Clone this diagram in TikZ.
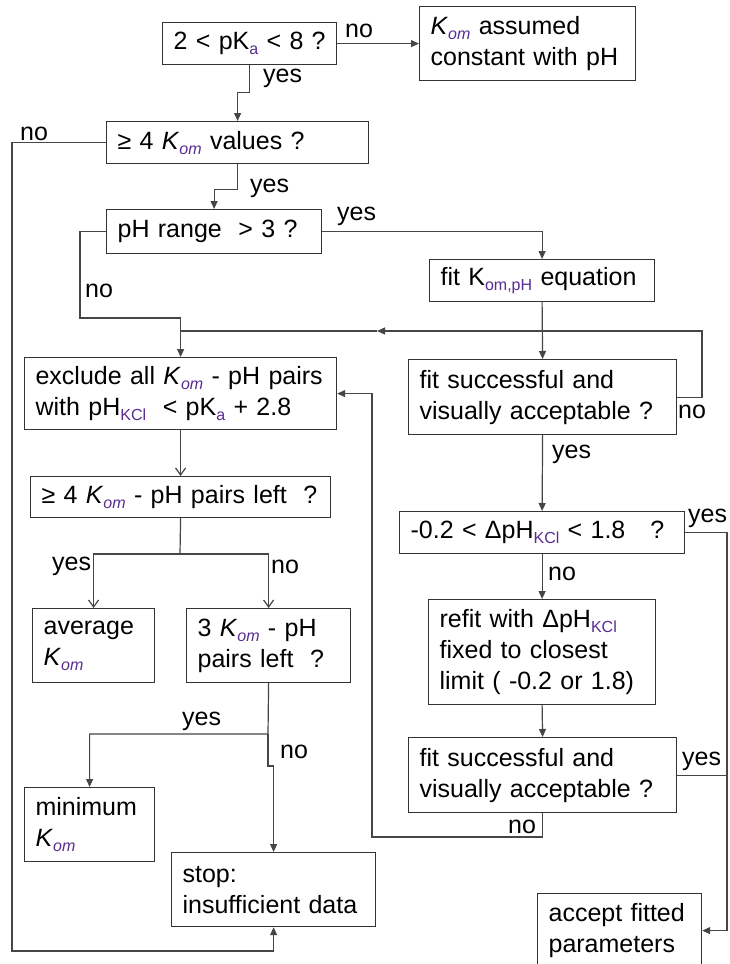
\documentclass[tikz,border=0pt]{standalone}
\usepackage{fontspec}
\setmainfont{Liberation Sans}
\usetikzlibrary{arrows.meta}
\definecolor{subc}{RGB}{88,44,145}
\definecolor{linec}{RGB}{70,70,70}
\newcommand{\sbs}[1]{\raisebox{-5pt}{\fontsize{16}{16}\selectfont\color{subc}#1}}
\newcommand{\Kom}{\textit{K}\sbs{\textit{om}}}
\begin{document}
\begin{tikzpicture}[x=1pt,y=1pt,
  box/.style={draw=black!80, line width=1.2pt, align=left, inner xsep=11pt, inner ysep=0pt,
    font=\fontsize{25}{31}\selectfont, anchor=north west},
  lbl/.style={font=\fontsize{25}{31}\selectfont, inner sep=0pt, anchor=base west},
  ln/.style={draw=linec, line width=1.2pt},
  arr/.style={ln, -{Triangle[length=8pt,width=7pt]}},
  oarr/.style={ln, -{Straight Barb[length=7pt,width=10pt]}}]
\clip (0,0) rectangle (729,-964);
\fill[white] (0,0) rectangle (729,-964);

% boxes
\node[box, text width=152pt, minimum height=42pt] (b1) at (162,-22) {\mbox{2 < pK\sbs{a} < 8 ?}};
\node[box, text width=194pt, minimum height=74pt] (b2) at (419,-6) {\Kom{} assumed\\constant with pH};
\node[box, text width=240pt, minimum height=42pt] (b3) at (106,-121) {≥ 4 \Kom{} values ?};
\node[box, text width=193pt, minimum height=44pt] (b4) at (106,-209) {pH range\ \ > 3 ?};
\node[box, text width=203pt, minimum height=42pt] (b5) at (429,-259) {fit K\sbs{om,pH} equation};
\node[box, text width=246pt, minimum height=75pt] (b6) at (408,-359) {fit successful and\\visually acceptable ?};
\node[box, text width=290pt, minimum height=72pt] (b7) at (24,-357) {exclude all \Kom{} - pH pairs\\with pH\sbs{KCl}\ \ < pK\sbs{a} + 2.8};
\node[box, text width=278pt, minimum height=41pt] (b8) at (30,-476) {≥ 4 \Kom{} - pH pairs left\ \ ?};
\node[box, text width=100pt, minimum height=74pt] (b9) at (32,-608) {average\\\Kom};
\node[box, text width=142pt, minimum height=74pt] (b10) at (186,-608) {3 \Kom{} - pH\\pairs left\ \ ?};
\node[box, text width=108pt, minimum height=74pt] (b11) at (24,-787) {minimum\\\Kom};
\node[box, text width=182pt, minimum height=74pt] (b12) at (171,-852) {stop:\\insufficient data};
\node[box, text width=263pt, minimum height=42pt] (b13) at (399,-511) {-0.2 < ΔpH\sbs{KCl} < 1.8\ \ \ ?};
\node[box, text width=205pt, minimum height=105pt] (b14) at (428,-599) {refit with ΔpH\sbs{KCl}\\fixed to closest\\limit ( -0.2 or 1.8)};
\node[box, text width=246pt, minimum height=75pt] (b15) at (408,-737) {fit successful and\\visually acceptable ?};
\node[box, text width=142pt, minimum height=74pt] (b16) at (537,-893) {accept fitted\\parameters};

% helper coordinates
\coordinate (cL) at (12,-951);
\coordinate (cN) at (80,-318);
\coordinate (cR) at (702,-331);
\coordinate (cA) at (377,-331);
\coordinate (cX) at (727,0);
\coordinate (cB) at (372,-837);
\coordinate (cS) at (180,-554);
\coordinate (cT) at (268,-734);

% connectors
\draw[arr] (b1.east) -- (b2.west);
\draw[arr] (b1.south) -- ++(0,-27) -| (b3.north);
\draw[arr] (b3.south) -- ++(0,-25) -| (b4.north);
\draw[arr] (b3.west) -| (cL) -| (b12.south);
\draw[arr] (b4.east) -| (b5.north);
\draw[arr] (b4.west) -| (cN) -| (b7.north);
\draw[arr] (b5.south) -- (b6.north);
\draw[arr] (b6.east) -| (cR) -- (cA);
\draw[ln] (cA) -- (b7.north |- cA);
\draw[arr] (b6.south) -- (b13.north);
\draw[arr] (b13.south) -- (b14.north);
\draw[arr] (b14.south) -- (b15.north);
\draw[arr] (b13.east) -| (b16.east -| cX) -- (b16.east);
\draw[ln] (b15.east) -- (b15.east -| cX);
\draw[arr] (b15.south) |- (cB) |- (b7.east);
\draw[oarr] (b7.south) -- (b8.north);
\draw[ln] (b8.south) -- (cS);
\draw[oarr] (cS) -| (b9.north);
\draw[oarr] (cS) -| (b10.north);
\draw[arr] (b10.south) -- (cT) -| (b11.north);
\draw[arr] (cT) -- ++(0,-32) -| (b12.north);

% labels
\node[lbl] (l1) at (345,-37) {no};
\node[lbl] (l2) at (263,-82) {yes};
\node[lbl] (l3) at (20,-140) {no};
\node[lbl] (l4) at (250,-192) {yes};
\node[lbl] (l5) at (337,-220) {yes};
\node[lbl] (l6) at (85,-297) {no};
\node[lbl] (l7) at (678,-418) {no};
\node[lbl] (l8) at (552,-458) {yes};
\node[lbl] (l9) at (688,-522) {yes};
\node[lbl] (l10) at (548,-580) {no};
\node[lbl] (l11) at (682,-765) {yes};
\node[lbl] (l12) at (508,-833) {no};
\node[lbl] (l13) at (52,-570) {yes};
\node[lbl] (l14) at (271,-573) {no};
\node[lbl] (l15) at (182,-725) {yes};
\node[lbl] (l16) at (280,-758) {no};
\end{tikzpicture}
\end{document}
